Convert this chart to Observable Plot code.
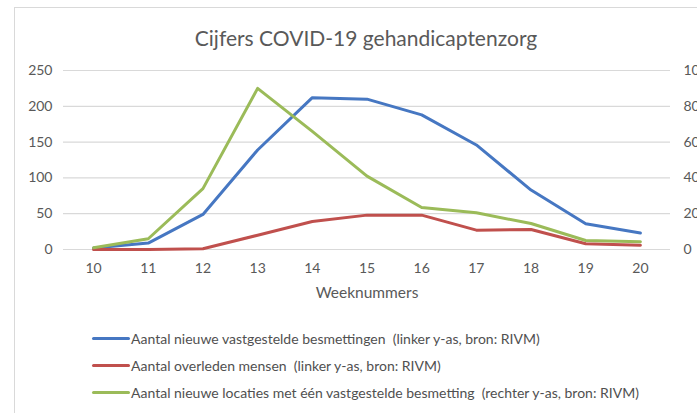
<!DOCTYPE html>
<html>
<head>
<meta charset="utf-8">
<script src="https://cdn.jsdelivr.net/npm/d3@7"></script>
<script src="https://cdn.jsdelivr.net/npm/@observablehq/plot@0.6"></script>
<style>
  html, body { margin: 0; padding: 0; background: #fff; overflow: hidden; width: 697px; height: 413px; }
  body { position: relative; font-family: Lato, "Open Sans", sans-serif; }
  #frame { position: absolute; left: 14px; top: 7px; width: 700px; height: 420px; border-left: 1px solid #d9d9d9; border-top: 1px solid #d9d9d9; }
  #title { position: absolute; left: 0; top: 25px; width: 732px; text-align: center; font-size: 21px; line-height: 26px; color: #595959; }
  #chart { position: absolute; left: 0; top: 60px; }
  #chart svg { overflow: visible; }
  #legend { position: absolute; left: 92px; top: 325px; font-size: 14px; color: #505050; }
  .item { display: flex; align-items: center; height: 27px; }
  .sw { width: 38px; height: 3px; border-radius: 2px; margin-right: 1px; }
</style>
</head>
<body>
<div id="frame"></div>
<div id="title">Cijfers COVID-19 gehandicaptenzorg</div>
<div id="chart"></div>
<div id="legend"></div>
<script>
const weeks = [10, 11, 12, 13, 14, 15, 16, 17, 18, 19, 20];
const besmettingen = [2, 9, 49, 139, 212, 210, 188, 146, 83, 36, 23];
const overleden = [0, 0, 1, 20, 39, 48, 48, 27, 28, 8, 6];
const locaties = [1, 6, 34, 90, 66, 41, 23.5, 20.5, 14.5, 5, 4.3];
const leftTicks = [0, 50, 100, 150, 200, 250];
const rightTicks = [0, 20, 40, 60, 80, 100];
const seriesNames = [
  "Aantal nieuwe vastgestelde besmettingen  (linker y-as, bron: RIVM)",
  "Aantal overleden mensen  (linker y-as, bron: RIVM)",
  "Aantal nieuwe locaties met één vastgestelde besmetting  (rechter y-as, bron: RIVM)"
];
const colors = ["#4677c2", "#c0504d", "#9bbb59"];
const xLabel = "Weeknummers";
const ratio = 250 / 100;

const rows = weeks.map((w, i) => ({week: w, b: besmettingen[i], o: overleden[i], l: locaties[i]}));

const plot = Plot.plot({
  width: 697,
  height: 250,
  marginTop: 10,
  marginBottom: 61,
  marginLeft: 63,
  marginRight: 27,
  style: {fontFamily: "Lato, 'Open Sans', sans-serif", fontSize: "14px", color: "#595959", background: "transparent"},
  x: {domain: [9.45, 20.55]},
  y: {domain: [0, 250]},
  marks: [
    Plot.ruleY(leftTicks, {stroke: "#d9d9d9", strokeWidth: 1.2, strokeOpacity: 1}),
    Plot.axisY(leftTicks, {anchor: "left", tickSize: 0, tickPadding: 11, label: null}),
    Plot.axisY(rightTicks, {anchor: "right", y: d => d * ratio, tickSize: 0, tickPadding: 13, label: null}),
    Plot.axisX(weeks, {anchor: "bottom", tickSize: 0, tickPadding: 14, label: null, tickFormat: d => String(d)}),
    Plot.text([xLabel], {frameAnchor: "bottom", dy: 48, text: d => d, fontSize: 15.5, fill: "#595959"}),
    Plot.line(rows, {x: "week", y: "b", stroke: colors[0], strokeWidth: 3}),
    Plot.line(rows, {x: "week", y: "o", stroke: colors[1], strokeWidth: 3}),
    Plot.line(rows, {x: "week", y: d => d.l * ratio, stroke: colors[2], strokeWidth: 3})
  ]
});
document.getElementById("chart").appendChild(plot);

const legend = document.getElementById("legend");
seriesNames.forEach((name, i) => {
  const item = document.createElement("div");
  item.className = "item";
  const sw = document.createElement("span");
  sw.className = "sw";
  sw.style.background = colors[i];
  const t = document.createElement("span");
  t.textContent = name;
  t.style.whiteSpace = "pre";
  item.appendChild(sw);
  item.appendChild(t);
  legend.appendChild(item);
});
</script>
</body>
</html>
